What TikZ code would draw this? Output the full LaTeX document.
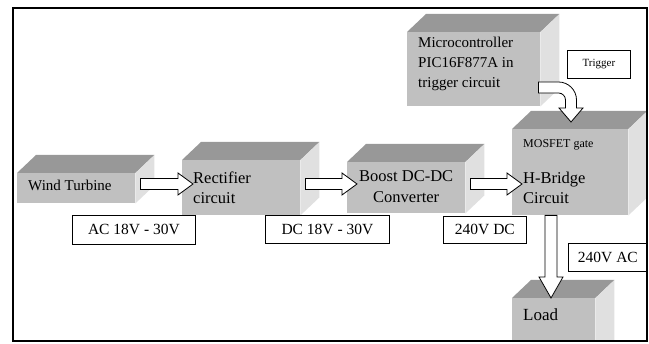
\documentclass[tikz,border=0pt]{standalone}
\usepackage{fontspec}
\setmainfont{Liberation Serif}
\usetikzlibrary{calc}
\definecolor{facefront}{RGB}{192,192,192}
\definecolor{facetop}{RGB}{152,152,152}
\definecolor{faceside}{RGB}{224,224,224}
% horizontal block arrow: #1 = tail point (on the axis), #2 = tip
\newcommand\hblockarrow[2]{%
  \draw[blockarrow] let \p1=(#1), \p2=(#2) in
    (\x1,\y1+5.5pt) -- (\x2-15pt,\y1+5.5pt) -- (\x2-15pt,\y1+11pt) -- (\x2,\y1)
    -- (\x2-15pt,\y1-11pt) -- (\x2-15pt,\y1-5.5pt) -- (\x1,\y1-5.5pt) -- cycle;}
\begin{document}
\begin{tikzpicture}[x=1pt,y=1pt,
  front/.style={fill=facefront, draw=none, inner sep=0pt, anchor=north west},
  tag/.style={draw=black, line width=0.8pt, fill=white, inner sep=0pt,
    anchor=north west, font=\fontsize{15.5}{18}\selectfont},
  txt/.style={inner sep=0pt, anchor=base west, font=\fontsize{16.5}{19}\selectfont},
  small/.style={font=\fontsize{15}{18}\selectfont},
  blockarrow/.style={draw=black, fill=white, line width=0.8pt, line join=miter}]
\useasboundingbox (0,0) rectangle (649,344);
\fill[white] (0,0) rectangle (649,344);

\begin{scope}
\clip (13,3) rectangle (647,336);
% front faces of the blocks
\node[front, minimum width=118pt, minimum height=30pt] (wt)    at (17,171)  {};
\node[front, minimum width=118pt, minimum height=55pt] (rect)  at (182,184) {};
\node[front, minimum width=118pt, minimum height=51pt] (boost) at (347,182) {};
\node[front, minimum width=116pt, minimum height=86pt] (hb)    at (512,215) {};
\node[front, minimum width=133pt, minimum height=74pt] (micro) at (407,312) {};
\node[front, minimum width=83pt,  minimum height=60pt] (load)  at (512,46)  {};
% top and side faces
\foreach \n in {wt,rect,boost,hb,micro,load}{
  \fill[facetop] (\n.north west) -- (\n.north east) -- ++(19,18)
    -- ($(\n.north west)+(19,18)$) -- cycle;
  \fill[faceside] (\n.north east) -- ++(19,18)
    -- ($(\n.south east)+(19,18)$) -- (\n.south east) -- cycle;
}
% block texts
\node[txt, small] (wtA) at ($(wt.north west)+(11,-18)$) {Wind Turbine};
\node[txt] (rectA) at ($(rect.north west)+(11,-24)$) {Rectifier};
\node[txt] (rectB) at ($(rect.north west)+(11,-44)$) {circuit};
\node[txt, anchor=base] (boostA) at ($(boost.north)+(0,-20)$) {Boost DC-DC};
\node[txt, anchor=base] (boostB) at ($(boost.north)+(0,-41)$) {Converter};
\node[txt, font=\fontsize{12}{14}\selectfont] (hbA) at ($(hb.north west)+(11,-19)$) {MOSFET gate};
\node[txt] (hbB) at ($(hb.north west)+(11,-55)$) {H-Bridge};
\node[txt] (hbC) at ($(hb.north west)+(11,-75)$) {Circuit};
\node[txt, small] (microA) at ($(micro.north west)+(11,-16)$) {Microcontroller};
\node[txt, small] (microB) at ($(micro.north west)+(11,-36)$) {PIC16F877A in};
\node[txt, small] (microC) at ($(micro.north west)+(11,-56)$) {trigger circuit};
\node[txt, font=\fontsize{17}{20}\selectfont] (loadA) at ($(load.north west)+(11,-23)$) {Load};

% value tags
\node[tag, minimum width=123pt, minimum height=29pt] (ac)    at (72,129)  {AC 18V - 30V};
\node[tag, minimum width=124pt, minimum height=28pt] (dc)    at (265,129) {DC 18V - 30V};
\node[tag, minimum width=83pt,  minimum height=27pt] (dcout) at (443,128) {240V DC};
\node[tag, minimum width=79pt,  minimum height=28pt] (acout) at (568,101) {240V AC};
\node[tag, minimum width=63pt,  minimum height=28pt, font=\fontsize{11}{13}\selectfont]
  (trig) at (567,294) {Trigger};

% axes of the arrows
\coordinate (row)  at (0,160);
\coordinate (col)  at (551,0);
\coordinate (trow) at (0,256.5);
\coordinate (tcol) at (571,0);

% power path
\hblockarrow{$(wt.east |- row)+(5,0)$}{$(rect.west |- row)+(11,0)$}
\hblockarrow{$(rect.east |- row)+(5,0)$}{$(boost.west |- row)+(10,0)$}
\hblockarrow{$(boost.east |- row)+(5,0)$}{$(hb.west |- row)+(10,0)$}

% H-bridge to load
\draw[blockarrow] let \p1=(hb.south -| col), \p2=(load.north -| col) in
  (\x1-6pt,\y1) -- (\x1+6pt,\y1) -- (\x1+6pt,\y2+21pt) -- (\x1+12pt,\y2+21pt)
  -- (\x2,\y2) -- (\x1-12pt,\y2+21pt) -- (\x1-6pt,\y2+21pt) -- cycle;

% trigger signal, bent down into the H-bridge
\draw[blockarrow] let \p1=($(micro.east |- trow)+(-2,0)$), \p2=($(hb.north -| tcol)+(0,7)$) in
  (\x1,\y1+5.5pt) -- (\x2-12.5pt,\y1+5.5pt) arc[start angle=90,end angle=0,radius=18pt]
  -- (\x2+5.5pt,\y2+14pt) -- (\x2+12pt,\y2+14pt) -- (\x2,\y2) -- (\x2-12pt,\y2+14pt)
  -- (\x2-5.5pt,\y2+14pt) -- (\x2-5.5pt,\y1-12.5pt) arc[start angle=0,end angle=90,radius=7pt]
  -- (\x1,\y1-5.5pt) -- cycle;
\end{scope}

% outer frame
\draw[line width=1.8pt] (13,3) rectangle (647,336);
\end{tikzpicture}
\end{document}
